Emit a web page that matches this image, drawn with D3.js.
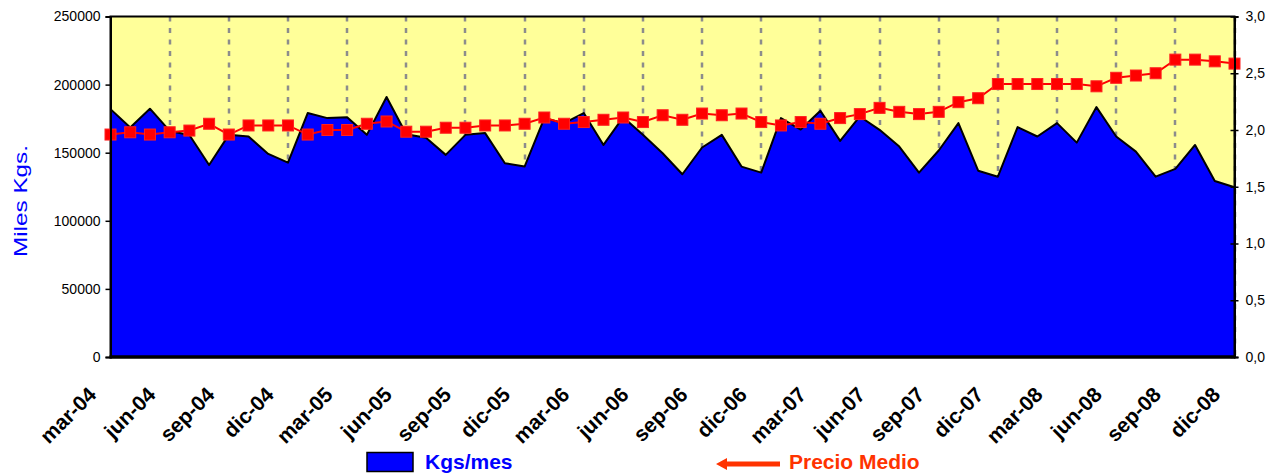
<!DOCTYPE html>
<html>
<head>
<meta charset="utf-8">
<script src="https://cdn.jsdelivr.net/npm/d3@7"></script>
<style>
  body { margin: 0; background: #fff; }
  text { font-family: Arial, "Liberation Sans", sans-serif; }
</style>
</head>
<body>
<div id="chart"></div>
<script>
// monthly data, mar-04 .. dic-08
var months = ["mar-04","abr-04","may-04","jun-04","jul-04","ago-04","sep-04","oct-04","nov-04","dic-04",
  "ene-05","feb-05","mar-05","abr-05","may-05","jun-05","jul-05","ago-05","sep-05","oct-05","nov-05","dic-05",
  "ene-06","feb-06","mar-06","abr-06","may-06","jun-06","jul-06","ago-06","sep-06","oct-06","nov-06","dic-06",
  "ene-07","feb-07","mar-07","abr-07","may-07","jun-07","jul-07","ago-07","sep-07","oct-07","nov-07","dic-07",
  "ene-08","feb-08","mar-08","abr-08","may-08","jun-08","jul-08","ago-08","sep-08","oct-08","nov-08","dic-08"];

var kgsMes = [182000, 168500, 182300, 166000, 163000, 141000, 163100, 161900, 149100, 142700,
  179100, 175400, 176100, 163100, 190900, 163600, 160900, 148400, 163100, 164400,
  142300, 139800, 175400, 171700, 179100, 155700, 176100, 163100, 149600, 134200,
  153800, 163100, 139800, 135400, 175400, 167000, 180800, 158700, 176600, 166800,
  154500, 135400, 151600, 171700, 136800, 132400, 168800, 161900, 171700, 157400,
  183500, 161900, 150800, 132400, 138100, 155700, 129200, 124600];

var precioMedio = [1.96, 1.98, 1.96, 1.98, 1.995, 2.055, 1.96, 2.04, 2.04, 2.04,
  1.96, 2.0, 2.0, 2.055, 2.075, 1.985, 1.985, 2.02, 2.02, 2.04,
  2.04, 2.055, 2.11, 2.055, 2.07, 2.09, 2.11, 2.07, 2.13, 2.09,
  2.145, 2.13, 2.145, 2.07, 2.04, 2.07, 2.055, 2.105, 2.14, 2.195,
  2.16, 2.14, 2.16, 2.245, 2.28, 2.405, 2.405, 2.405, 2.405, 2.405,
  2.385, 2.46, 2.48, 2.5, 2.62, 2.62, 2.605, 2.585];

var leftTicks = [0, 50000, 100000, 150000, 200000, 250000];
var rightTicks = [0, 0.5, 1, 1.5, 2, 2.5, 3];

var W = 1266, H = 473;
var L = 110.5, R = 1234.5, T = 16.5, B = 357;

var svg = d3.select("#chart").append("svg")
    .attr("width", W)
    .attr("height", H);

var x = d3.scalePoint().domain(months).range([L, R]);
var yL = d3.scaleLinear().domain([0, 250000]).range([B, T]);
var yR = d3.scaleLinear().domain([0, 3]).range([B, T]);

var labelMonths = months.filter(function(d, i) { return i % 3 == 0; });
var gridMonths = months.filter(function(d, i) { return i % 3 == 0 && i > 0; });

// plot background
svg.append("rect")
    .attr("x", L).attr("y", T)
    .attr("width", R - L).attr("height", B - T)
    .attr("fill", "#FFFF99");

// dashed quarter lines
svg.selectAll("line.grid").data(gridMonths)
  .enter().append("line")
    .attr("class", "grid")
    .attr("x1", function(d) { return Math.round(x(d)); })
    .attr("x2", function(d) { return Math.round(x(d)); })
    .attr("y1", T).attr("y2", B)
    .attr("stroke", "#8c8c8c")
    .attr("stroke-width", 2.5)
    .attr("stroke-dasharray", "5,6.5");

// Kgs/mes area
var area = d3.area()
    .x(function(d, i) { return x(months[i]); })
    .y0(B)
    .y1(function(d) { return yL(d); });
svg.append("path")
    .datum(kgsMes)
    .attr("d", area)
    .attr("fill", "#0000FF");
svg.append("path")
    .datum(kgsMes)
    .attr("d", d3.line().x(function(d, i) { return x(months[i]); }).y(function(d) { return yL(d); }))
    .attr("fill", "none")
    .attr("stroke", "#000")
    .attr("stroke-width", 2)
    .attr("stroke-linejoin", "round");

// plot border + axes lines
svg.append("rect")
    .attr("x", L).attr("y", T)
    .attr("width", R - L).attr("height", B - T)
    .attr("fill", "none")
    .attr("stroke", "#000")
    .attr("stroke-width", 2);
svg.append("line")
    .attr("x1", L - 1).attr("x2", R + 1)
    .attr("y1", B).attr("y2", B)
    .attr("stroke", "#000")
    .attr("stroke-width", 3.5);

// Precio Medio line + markers
svg.append("path")
    .datum(precioMedio)
    .attr("d", d3.line().x(function(d, i) { return x(months[i]); }).y(function(d) { return yR(d); }))
    .attr("fill", "none")
    .attr("stroke", "#FF0000")
    .attr("stroke-width", 2);
svg.selectAll("rect.mk").data(precioMedio)
  .enter().append("rect")
    .attr("class", "mk")
    .attr("x", function(d, i) { return x(months[i]) - 5.5; })
    .attr("y", function(d) { return yR(d) - 5.5; })
    .attr("width", 11).attr("height", 11)
    .attr("fill", "#FF0000")
    .attr("stroke", "#FF2020")
    .attr("stroke-width", 1);

// left axis
var gl = svg.append("g")
    .attr("transform", "translate(" + L + ",0)")
    .call(d3.axisLeft(yL).tickValues(leftTicks).tickSize(5).tickPadding(5).tickFormat(d3.format("d")));
gl.select(".domain").attr("stroke-width", 2);
gl.selectAll(".tick line").attr("stroke-width", 1.5);
gl.selectAll(".tick text").attr("font-size", 14).attr("fill", "#000")
    .style("font-family", "Arial, 'Liberation Sans', sans-serif");

// right axis
var gr = svg.append("g")
    .attr("transform", "translate(" + R + ",0)")
    .call(d3.axisRight(yR).tickValues(rightTicks).tickSize(4).tickPadding(7)
      .tickFormat(function(d) { return d.toFixed(1).replace(".", ","); }));
gr.select(".domain").attr("stroke-width", 2);
gr.selectAll(".tick line").attr("x1", -4).attr("stroke-width", 1.5);
gr.selectAll(".tick text").attr("font-size", 14).attr("fill", "#000")
    .style("font-family", "Arial, 'Liberation Sans', sans-serif");

// category labels
svg.selectAll("text.xl").data(labelMonths)
  .enter().append("text")
    .attr("class", "xl")
    .attr("transform", function(d) { return "translate(" + (x(d) - 13) + ",396) rotate(-45)"; })
    .attr("text-anchor", "end")
    .attr("font-size", 21)
    .attr("font-weight", "bold")
    .attr("fill", "#000")
    .text(function(d) { return d; });

// y title
svg.append("text")
    .attr("transform", "translate(27,201) rotate(-90)")
    .attr("text-anchor", "middle")
    .attr("font-size", 19)
    .attr("fill", "#0000FF")
    .attr("textLength", 112)
    .attr("lengthAdjust", "spacingAndGlyphs")
    .text("Miles Kgs.");

// legend
svg.append("rect")
    .attr("x", 367).attr("y", 452.5)
    .attr("width", 46).attr("height", 19)
    .attr("fill", "#0000FF")
    .attr("stroke", "#000")
    .attr("stroke-width", 1.5);
svg.append("text")
    .attr("x", 425).attr("y", 469)
    .attr("font-size", 21)
    .attr("font-weight", "bold")
    .attr("fill", "#0000FF")
    .text("Kgs/mes");

svg.append("path")
    .attr("d", "M716,464 L727,458 L727,461.5 L780,461.5 L780,466.5 L727,466.5 L727,470 Z")
    .attr("fill", "#FF3300");
svg.append("text")
    .attr("x", 789).attr("y", 469)
    .attr("font-size", 21)
    .attr("font-weight", "bold")
    .attr("fill", "#FF3300")
    .text("Precio Medio");
</script>
</body>
</html>
